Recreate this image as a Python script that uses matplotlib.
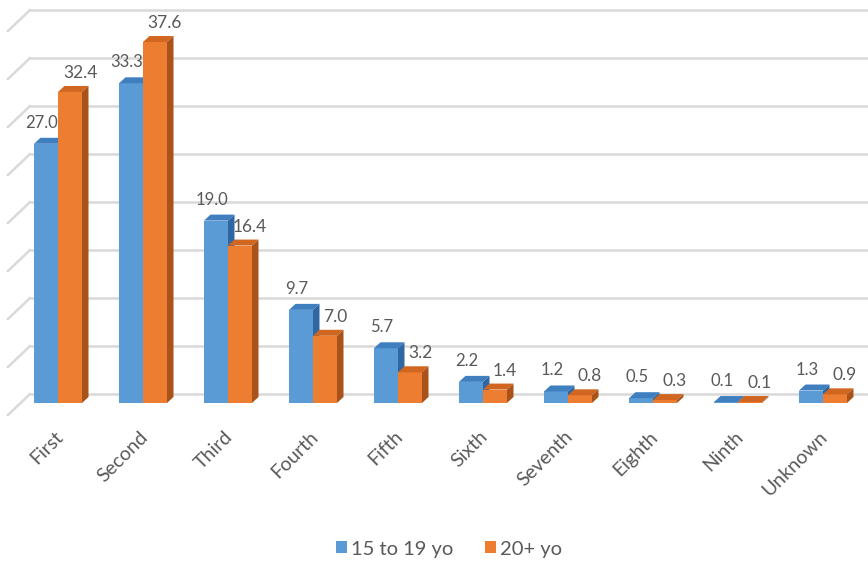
import matplotlib
matplotlib.use("Agg")
import matplotlib.pyplot as plt
from matplotlib.patches import Polygon, Patch

# Data: share of births by birth order, two maternal age groups (%)
categories = ['First', 'Second', 'Third', 'Fourth', 'Fifth', 'Sixth',
              'Seventh', 'Eighth', 'Ninth', 'Unknown']
teen_values = [27.0, 33.3, 19.0, 9.7, 5.7, 2.2, 1.2, 0.5, 0.1, 1.3]
adult_values = [32.4, 37.6, 16.4, 7.0, 3.2, 1.4, 0.8, 0.3, 0.1, 0.9]
series_names = ['15 to 19 yo', '20+ yo']
grid_values = [0, 5, 10, 15, 20, 25, 30, 35, 40]

# Colours: front, top and side faces of the pseudo-3D columns
blue = ('#5B9BD5', '#3F7FC0', '#2F67A3')
orange = ('#ED7D31', '#D0661F', '#A9531A')
text_color = '#595959'
grid_color = '#D9D9D9'
font = ['Lato', 'DejaVu Sans']

W, H = 868, 565
fig = plt.figure(figsize=(W / 100, H / 100), dpi=100)
ax = fig.add_axes([0, 0, 1, 1])

# Pixel scale helpers for the projection
px_x = 85.0          # pixels per category
px_y = 9.6           # pixels per percentage point
x0_px, base_px = 58.0, 403.0
ax.set_xlim(-x0_px / px_x, (W - x0_px) / px_x)
ax.set_ylim(-(H - base_px) / px_y, base_px / px_y)
ax.axis('off')

bar_w = 24 / px_x
depth_dx = 6.5 / px_x
depth_dy = 6.0 / px_y
wall_dy = 9.0 / px_y
wall_left = -(x0_px - 30) / px_x
side_dx = 22 / px_x
side_dy = 21 / px_y

# Back wall and left wall gridlines
for g in grid_values:
    y = g + wall_dy
    ax.plot([wall_left, ax.get_xlim()[1]], [y, y], color=grid_color,
            lw=1.8, solid_capstyle='butt', zorder=1)
    ax.plot([wall_left - side_dx, wall_left], [y - side_dy, y],
            color=grid_color, lw=1.8, zorder=1)


def column(xl, value, faces, z):
    xr = xl + bar_w
    front, top, side = faces
    ax.add_patch(Polygon([(xl, 0), (xr, 0), (xr, value), (xl, value)],
                         closed=True, facecolor=front, edgecolor='none', zorder=z))
    ax.add_patch(Polygon([(xl, value), (xr, value),
                          (xr + depth_dx, value + depth_dy),
                          (xl + depth_dx, value + depth_dy)],
                         closed=True, facecolor=top, edgecolor='none', zorder=z))
    ax.add_patch(Polygon([(xr, 0), (xr + depth_dx, depth_dy),
                          (xr + depth_dx, value + depth_dy), (xr, value)],
                         closed=True, facecolor=side, edgecolor='none', zorder=z))


for i, (t, a) in enumerate(zip(teen_values, adult_values)):
    xl_t = i - bar_w
    xl_a = i
    column(xl_t, t, blue, 3 + 2 * i)
    column(xl_a, a, orange, 4 + 2 * i)
    ax.text(xl_t + bar_w / 2 - 4 / px_x, t + 21 / px_y, f'{t:.1f}', ha='center',
            va='center', fontsize=12, color=text_color, family=font, zorder=40)
    ax.text(xl_a + bar_w / 2 + 10 / px_x, a + 19 / px_y, f'{a:.1f}', ha='center',
            va='center', fontsize=12.5, color=text_color, family=font, zorder=40)

# Category labels, rotated 45 degrees
for i, name in enumerate(categories):
    ax.text(i - 4 / px_x, -25 / px_y, name, rotation=45, rotation_mode='anchor',
            ha='right', va='top', fontsize=14, color=text_color, family=font)

handles = [Patch(facecolor=blue[0]), Patch(facecolor=orange[0])]
fig.legend(handles, series_names, loc='center', ncol=2, frameon=False,
           bbox_to_anchor=(449 / W, 16 / H), handlelength=0.55, handleheight=0.55,
           handletextpad=0.2, columnspacing=1.6,
           prop={'family': font, 'size': 14.5}, labelcolor=text_color)

fig.savefig('out.png', dpi=100, facecolor='white')
